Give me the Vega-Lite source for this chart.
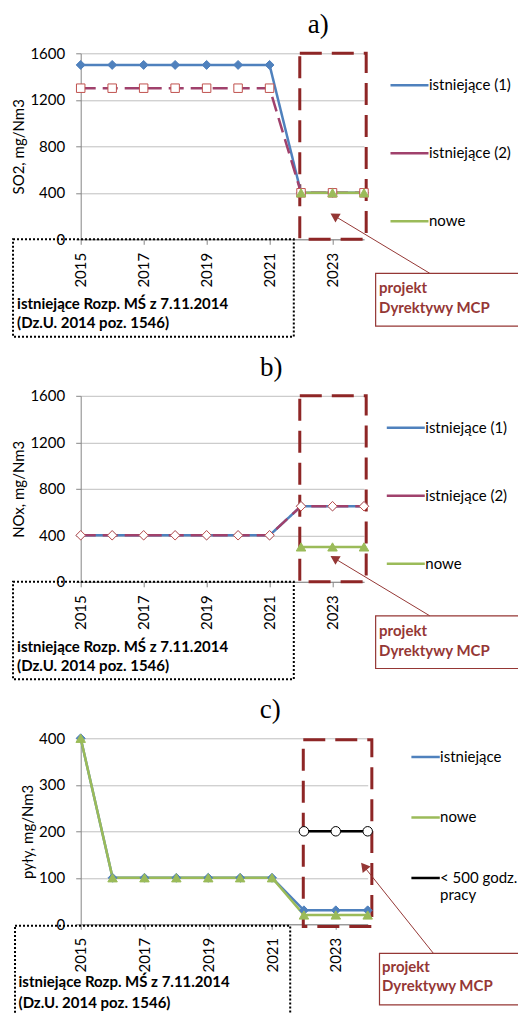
{
  "$schema": "https://vega.github.io/schema/vega-lite/v6.json",
  "padding": {"left": 11.7, "top": 11.3, "right": 0, "bottom": 0},
  "background": "white",
  "spacing": 156.5,
  "bounds": "flush",
  "resolve": {"scale": {"color": "independent"}, "legend": {"color": "independent"}},
  "config": {
    "view": {"stroke": null},
    "font": "Lato",
    "title": {"font": "Liberation Serif", "fontSize": 27, "fontWeight": "normal", "color": "#000", "anchor": "middle", "baseline": "alphabetic"},
    "axis": {"labelFont": "Lato", "labelFontSize": 15, "labelColor": "#000", "titleFont": "Lato", "titleFontSize": 15, "titleFontWeight": "normal", "titleColor": "#000", "domainColor": "#868686", "tickColor": "#868686", "gridColor": "#BFBFBF", "tickSize": 5, "labelOverlap": false},
    "legend": {"labelFont": "Lato", "labelFontSize": 15, "labelColor": "#000", "padding": 0, "labelOffset": -1, "symbolStrokeWidth": 2.5}
  },
  "vconcat": [
    {
      "title": {"text": "a)", "dx": 96, "offset": 7},
      "width": 283.3,
      "height": 186,
      "data": {"values": [
        {"rok": 2015, "seria": "istniejące (1)", "wartosc": 1500},
        {"rok": 2016, "seria": "istniejące (1)", "wartosc": 1500},
        {"rok": 2017, "seria": "istniejące (1)", "wartosc": 1500},
        {"rok": 2018, "seria": "istniejące (1)", "wartosc": 1500},
        {"rok": 2019, "seria": "istniejące (1)", "wartosc": 1500},
        {"rok": 2020, "seria": "istniejące (1)", "wartosc": 1500},
        {"rok": 2021, "seria": "istniejące (1)", "wartosc": 1500},
        {"rok": 2022, "seria": "istniejące (1)", "wartosc": 400},
        {"rok": 2023, "seria": "istniejące (1)", "wartosc": 400},
        {"rok": 2024, "seria": "istniejące (1)", "wartosc": 400},
        {"rok": 2015, "seria": "istniejące (2)", "wartosc": 1300},
        {"rok": 2016, "seria": "istniejące (2)", "wartosc": 1300},
        {"rok": 2017, "seria": "istniejące (2)", "wartosc": 1300},
        {"rok": 2018, "seria": "istniejące (2)", "wartosc": 1300},
        {"rok": 2019, "seria": "istniejące (2)", "wartosc": 1300},
        {"rok": 2020, "seria": "istniejące (2)", "wartosc": 1300},
        {"rok": 2021, "seria": "istniejące (2)", "wartosc": 1300},
        {"rok": 2022, "seria": "istniejące (2)", "wartosc": 400},
        {"rok": 2023, "seria": "istniejące (2)", "wartosc": 400},
        {"rok": 2024, "seria": "istniejące (2)", "wartosc": 400},
        {"rok": 2022, "seria": "nowe", "wartosc": 400},
        {"rok": 2023, "seria": "nowe", "wartosc": 400},
        {"rok": 2024, "seria": "nowe", "wartosc": 400}
      ]},
      "layer": [
        {
          "data": {"values": [{}]},
          "mark": {"type": "rect", "filled": false, "stroke": "#8E2626", "strokeWidth": 3, "strokeDash": [22, 10], "clip": false},
          "encoding": {"x": {"datum": 2021.96}, "x2": {"datum": 2024.07}, "y": {"datum": 0}, "y2": {"datum": 1600}}
        },
        {
          "mark": {"type": "line", "strokeWidth": 2.5},
          "encoding": {
            "x": {"field": "rok", "type": "quantitative", "scale": {"domain": [2015, 2024], "nice": false, "zero": false},
                  "axis": {"title": null, "values": [2015, 2016, 2017, 2018, 2019, 2020, 2021, 2022, 2023, 2024], "format": "d", "labelAngle": 270, "grid": false, "labelPadding": 8, "labelOverlap": false}},
            "y": {"field": "wartosc", "type": "quantitative", "scale": {"domain": [0, 1600], "nice": false},
                  "axis": {"title": "SO2, mg/Nm3", "values": [0, 400, 800, 1200, 1600], "format": "d", "grid": true, "labelPadding": 11, "titlePadding": 3}},
            "color": {"field": "seria", "type": "nominal",
                      "scale": {"domain": ["istniejące (1)", "istniejące (2)", "nowe"], "range": ["#4F81BD", "#A0416C", "#9BBB59"]},
                      "legend": {"title": null, "orient": "none", "legendX": 308.3, "legendY": 11.4, "symbolSize": 1444, "rowPadding": 39}},
            "strokeDash": {"field": "seria", "type": "nominal",
                           "scale": {"domain": ["istniejące (1)", "istniejące (2)", "nowe"], "range": [[1, 0], [15, 7], [1, 0]]}, "legend": null}
          }
        },
        {
          "transform": [{"filter": "datum.seria == 'istniejące (1)'"}],
          "mark": {"type": "point", "shape": "diamond", "filled": true, "fill": "#4F81BD", "stroke": "#4F81BD", "strokeWidth": 1, "opacity": 1, "size": 80},
          "encoding": {"x": {"field": "rok", "type": "quantitative"}, "y": {"field": "wartosc", "type": "quantitative"}}
        },
        {
          "transform": [{"filter": "datum.seria == 'istniejące (2)'"}],
          "mark": {"type": "point", "shape": "square", "filled": true, "fill": "#FFFFFF", "stroke": "#C0504D", "strokeWidth": 1, "opacity": 1, "size": 72},
          "encoding": {"x": {"field": "rok", "type": "quantitative"}, "y": {"field": "wartosc", "type": "quantitative"}}
        },
        {
          "transform": [{"filter": "datum.seria == 'nowe'"}],
          "mark": {"type": "point", "shape": "triangle-up", "filled": true, "fill": "#9BBB59", "stroke": "#9BBB59", "strokeWidth": 1, "opacity": 1, "size": 90},
          "encoding": {"x": {"field": "rok", "type": "quantitative"}, "y": {"field": "wartosc", "type": "quantitative"}}
        },
        {
          "data": {"values": [{}]},
          "mark": {"type": "rect", "filled": false, "stroke": "#000", "strokeWidth": 2, "strokeDash": [2, 2], "clip": false},
          "encoding": {"x": {"datum": 2012.85}, "x2": {"datum": 2021.77}, "y": {"datum": 0}, "y2": {"datum": -838}}
        },
        {
          "data": {"values": [{}]},
          "mark": {"type": "text", "text": "istniejące Rozp. MŚ z 7.11.2014", "align": "left", "baseline": "middle", "font": "Lato", "fontSize": 15, "fontWeight": "bold", "color": "#000", "clip": false},
          "encoding": {"x": {"datum": 2012.98}, "y": {"datum": -557}}
        },
        {
          "data": {"values": [{}]},
          "mark": {"type": "text", "text": "(Dz.U. 2014 poz. 1546)", "align": "left", "baseline": "middle", "font": "Lato", "fontSize": 15, "fontWeight": "bold", "color": "#000", "clip": false},
          "encoding": {"x": {"datum": 2012.98}, "y": {"datum": -723}}
        },
        {
          "data": {"values": [{}]},
          "mark": {"type": "rect", "filled": false, "stroke": "#953735", "strokeWidth": 1.2, "clip": false},
          "encoding": {"x": {"datum": 2024.37}, "x2": {"datum": 2029.4}, "y": {"datum": -292.5}, "y2": {"datum": -746}}
        },
        {
          "data": {"values": [{}]},
          "mark": {"type": "text", "text": "projekt", "align": "left", "baseline": "middle", "font": "Lato", "fontSize": 15, "fontWeight": "bold", "color": "#953735", "clip": false},
          "encoding": {"x": {"datum": 2024.48}, "y": {"datum": -421.5}}
        },
        {
          "data": {"values": [{}]},
          "mark": {"type": "text", "text": "Dyrektywy MCP", "align": "left", "baseline": "middle", "font": "Lato", "fontSize": 15, "fontWeight": "bold", "color": "#953735", "clip": false},
          "encoding": {"x": {"datum": 2024.48}, "y": {"datum": -593.5}}
        },
        {
          "data": {"values": [{}]},
          "mark": {"type": "rule", "stroke": "#953735", "strokeWidth": 1, "clip": false},
          "encoding": {"x": {"datum": 2026.09}, "y": {"datum": -292.5}, "x2": {"datum": 2023.07}, "y2": {"datum": 200.4}}
        },
        {
          "data": {"values": [{}]},
          "mark": {"type": "point", "shape": "triangle-up", "filled": true, "fill": "#953735", "stroke": "#953735", "size": 45, "angle": 301, "opacity": 1, "clip": false},
          "encoding": {"x": {"datum": 2023.07}, "y": {"datum": 200.4}}
        }
      ]
    },
    {
      "title": {"text": "b)", "dx": 49, "offset": 7},
      "width": 283.3,
      "height": 186,
      "data": {"values": [
        {"rok": 2015, "seria": "istniejące (1)", "wartosc": 400},
        {"rok": 2016, "seria": "istniejące (1)", "wartosc": 400},
        {"rok": 2017, "seria": "istniejące (1)", "wartosc": 400},
        {"rok": 2018, "seria": "istniejące (1)", "wartosc": 400},
        {"rok": 2019, "seria": "istniejące (1)", "wartosc": 400},
        {"rok": 2020, "seria": "istniejące (1)", "wartosc": 400},
        {"rok": 2021, "seria": "istniejące (1)", "wartosc": 400},
        {"rok": 2022, "seria": "istniejące (1)", "wartosc": 650},
        {"rok": 2023, "seria": "istniejące (1)", "wartosc": 650},
        {"rok": 2024, "seria": "istniejące (1)", "wartosc": 650},
        {"rok": 2015, "seria": "istniejące (2)", "wartosc": 400},
        {"rok": 2016, "seria": "istniejące (2)", "wartosc": 400},
        {"rok": 2017, "seria": "istniejące (2)", "wartosc": 400},
        {"rok": 2018, "seria": "istniejące (2)", "wartosc": 400},
        {"rok": 2019, "seria": "istniejące (2)", "wartosc": 400},
        {"rok": 2020, "seria": "istniejące (2)", "wartosc": 400},
        {"rok": 2021, "seria": "istniejące (2)", "wartosc": 400},
        {"rok": 2022, "seria": "istniejące (2)", "wartosc": 650},
        {"rok": 2023, "seria": "istniejące (2)", "wartosc": 650},
        {"rok": 2024, "seria": "istniejące (2)", "wartosc": 650},
        {"rok": 2022, "seria": "nowe", "wartosc": 300},
        {"rok": 2023, "seria": "nowe", "wartosc": 300},
        {"rok": 2024, "seria": "nowe", "wartosc": 300}
      ]},
      "layer": [
        {
          "data": {"values": [{}]},
          "mark": {"type": "rect", "filled": false, "stroke": "#8E2626", "strokeWidth": 3, "strokeDash": [22, 10], "clip": false},
          "encoding": {"x": {"datum": 2021.96}, "x2": {"datum": 2024.07}, "y": {"datum": 0}, "y2": {"datum": 1600}}
        },
        {
          "mark": {"type": "line", "strokeWidth": 2.5},
          "encoding": {
            "x": {"field": "rok", "type": "quantitative", "scale": {"domain": [2015, 2024], "nice": false, "zero": false},
                  "axis": {"title": null, "values": [2015, 2016, 2017, 2018, 2019, 2020, 2021, 2022, 2023, 2024], "format": "d", "labelAngle": 270, "grid": false, "labelPadding": 8, "labelOverlap": false}},
            "y": {"field": "wartosc", "type": "quantitative", "scale": {"domain": [0, 1600], "nice": false},
                  "axis": {"title": "NOx, mg/Nm3", "values": [0, 400, 800, 1200, 1600], "format": "d", "grid": true, "labelPadding": 11, "titlePadding": 3}},
            "color": {"field": "seria", "type": "nominal",
                      "scale": {"domain": ["istniejące (1)", "istniejące (2)", "nowe"], "range": ["#4F81BD", "#A0416C", "#9BBB59"]},
                      "legend": {"title": null, "orient": "none", "legendX": 304.6, "legendY": 11.4, "symbolSize": 1444, "rowPadding": 39}},
            "strokeDash": {"field": "seria", "type": "nominal",
                           "scale": {"domain": ["istniejące (1)", "istniejące (2)", "nowe"], "range": [[1, 0], [15, 7], [1, 0]]}, "legend": null}
          }
        },
        {
          "transform": [{"filter": "datum.seria == 'istniejące (1)'"}],
          "mark": {"type": "point", "shape": "diamond", "filled": true, "fill": "#4F81BD", "stroke": "#4F81BD", "strokeWidth": 1, "opacity": 1, "size": 80},
          "encoding": {"x": {"field": "rok", "type": "quantitative"}, "y": {"field": "wartosc", "type": "quantitative"}}
        },
        {
          "transform": [{"filter": "datum.seria == 'istniejące (2)'"}],
          "mark": {"type": "point", "shape": "diamond", "filled": true, "fill": "#FFFFFF", "stroke": "#C0504D", "strokeWidth": 1, "opacity": 1, "size": 90},
          "encoding": {"x": {"field": "rok", "type": "quantitative"}, "y": {"field": "wartosc", "type": "quantitative"}}
        },
        {
          "transform": [{"filter": "datum.seria == 'nowe'"}],
          "mark": {"type": "point", "shape": "triangle-up", "filled": true, "fill": "#9BBB59", "stroke": "#9BBB59", "strokeWidth": 1, "opacity": 1, "size": 90},
          "encoding": {"x": {"field": "rok", "type": "quantitative"}, "y": {"field": "wartosc", "type": "quantitative"}}
        },
        {
          "data": {"values": [{}]},
          "mark": {"type": "rect", "filled": false, "stroke": "#000", "strokeWidth": 2, "strokeDash": [2, 2], "clip": false},
          "encoding": {"x": {"datum": 2012.85}, "x2": {"datum": 2021.77}, "y": {"datum": 0}, "y2": {"datum": -838}}
        },
        {
          "data": {"values": [{}]},
          "mark": {"type": "text", "text": "istniejące Rozp. MŚ z 7.11.2014", "align": "left", "baseline": "middle", "font": "Lato", "fontSize": 15, "fontWeight": "bold", "color": "#000", "clip": false},
          "encoding": {"x": {"datum": 2012.98}, "y": {"datum": -557}}
        },
        {
          "data": {"values": [{}]},
          "mark": {"type": "text", "text": "(Dz.U. 2014 poz. 1546)", "align": "left", "baseline": "middle", "font": "Lato", "fontSize": 15, "fontWeight": "bold", "color": "#000", "clip": false},
          "encoding": {"x": {"datum": 2012.98}, "y": {"datum": -723}}
        },
        {
          "data": {"values": [{}]},
          "mark": {"type": "rect", "filled": false, "stroke": "#953735", "strokeWidth": 1.2, "clip": false},
          "encoding": {"x": {"datum": 2024.37}, "x2": {"datum": 2029.4}, "y": {"datum": -292.5}, "y2": {"datum": -746}}
        },
        {
          "data": {"values": [{}]},
          "mark": {"type": "text", "text": "projekt", "align": "left", "baseline": "middle", "font": "Lato", "fontSize": 15, "fontWeight": "bold", "color": "#953735", "clip": false},
          "encoding": {"x": {"datum": 2024.48}, "y": {"datum": -421.5}}
        },
        {
          "data": {"values": [{}]},
          "mark": {"type": "text", "text": "Dyrektywy MCP", "align": "left", "baseline": "middle", "font": "Lato", "fontSize": 15, "fontWeight": "bold", "color": "#953735", "clip": false},
          "encoding": {"x": {"datum": 2024.48}, "y": {"datum": -593.5}}
        },
        {
          "data": {"values": [{}]},
          "mark": {"type": "rule", "stroke": "#953735", "strokeWidth": 1, "clip": false},
          "encoding": {"x": {"datum": 2026.09}, "y": {"datum": -292.5}, "x2": {"datum": 2023.07}, "y2": {"datum": 200.4}}
        },
        {
          "data": {"values": [{}]},
          "mark": {"type": "point", "shape": "triangle-up", "filled": true, "fill": "#953735", "stroke": "#953735", "size": 45, "angle": 301, "opacity": 1, "clip": false},
          "encoding": {"x": {"datum": 2023.07}, "y": {"datum": 200.4}}
        }
      ]
    },
    {
      "title": {"text": "c)", "dx": 46, "offset": 7},
      "width": 287,
      "height": 186,
      "data": {"values": [
        {"rok": 2015, "seria": "istniejące", "wartosc": 400},
        {"rok": 2016, "seria": "istniejące", "wartosc": 100},
        {"rok": 2017, "seria": "istniejące", "wartosc": 100},
        {"rok": 2018, "seria": "istniejące", "wartosc": 100},
        {"rok": 2019, "seria": "istniejące", "wartosc": 100},
        {"rok": 2020, "seria": "istniejące", "wartosc": 100},
        {"rok": 2021, "seria": "istniejące", "wartosc": 100},
        {"rok": 2022, "seria": "istniejące", "wartosc": 30},
        {"rok": 2023, "seria": "istniejące", "wartosc": 30},
        {"rok": 2024, "seria": "istniejące", "wartosc": 30},
        {"rok": 2015, "seria": "nowe", "wartosc": 400},
        {"rok": 2016, "seria": "nowe", "wartosc": 100},
        {"rok": 2017, "seria": "nowe", "wartosc": 100},
        {"rok": 2018, "seria": "nowe", "wartosc": 100},
        {"rok": 2019, "seria": "nowe", "wartosc": 100},
        {"rok": 2020, "seria": "nowe", "wartosc": 100},
        {"rok": 2021, "seria": "nowe", "wartosc": 100},
        {"rok": 2022, "seria": "nowe", "wartosc": 20},
        {"rok": 2023, "seria": "nowe", "wartosc": 20},
        {"rok": 2024, "seria": "nowe", "wartosc": 20},
        {"rok": 2022, "seria": "< 500 godz. pracy", "wartosc": 200},
        {"rok": 2023, "seria": "< 500 godz. pracy", "wartosc": 200},
        {"rok": 2024, "seria": "< 500 godz. pracy", "wartosc": 200}
      ]},
      "layer": [
        {
          "data": {"values": [{}]},
          "mark": {"type": "rect", "filled": false, "stroke": "#8E2626", "strokeWidth": 3, "strokeDash": [22, 10], "clip": false},
          "encoding": {"x": {"datum": 2021.98}, "x2": {"datum": 2024.13}, "y": {"datum": -5}, "y2": {"datum": 397}}
        },
        {
          "mark": {"type": "line", "strokeWidth": 2.5},
          "encoding": {
            "x": {"field": "rok", "type": "quantitative", "scale": {"domain": [2015, 2024], "nice": false, "zero": false},
                  "axis": {"title": null, "values": [2015, 2016, 2017, 2018, 2019, 2020, 2021, 2022, 2023, 2024], "format": "d", "labelAngle": 270, "grid": false, "labelPadding": 8, "labelOverlap": false}},
            "y": {"field": "wartosc", "type": "quantitative", "scale": {"domain": [0, 400], "nice": false},
                  "axis": {"title": "pyły, mg/Nm3", "values": [0, 100, 200, 300, 400], "format": "d", "grid": true, "labelPadding": 11, "titlePadding": 3}},
            "color": {"field": "seria", "type": "nominal",
                      "scale": {"domain": ["istniejące", "nowe", "< 500 godz. pracy"], "range": ["#4F81BD", "#9BBB59", "#000000"]},
                      "legend": {"title": null, "orient": "none", "legendX": 329.4, "legendY": 3.2, "symbolSize": 806, "rowPadding": 36.5,
                        "labelExpr": "datum.label == '< 500 godz. pracy' ? ['< 500 godz.', 'pracy'] : datum.label"}}
          }
        },
        {
          "transform": [{"filter": "datum.seria == 'istniejące'"}],
          "mark": {"type": "point", "shape": "diamond", "filled": true, "fill": "#4F81BD", "stroke": "#4F81BD", "strokeWidth": 1, "opacity": 1, "size": 80},
          "encoding": {"x": {"field": "rok", "type": "quantitative"}, "y": {"field": "wartosc", "type": "quantitative"}}
        },
        {
          "transform": [{"filter": "datum.seria == 'nowe'"}],
          "mark": {"type": "point", "shape": "triangle-up", "filled": true, "fill": "#9BBB59", "stroke": "#9BBB59", "strokeWidth": 1, "opacity": 1, "size": 90},
          "encoding": {"x": {"field": "rok", "type": "quantitative"}, "y": {"field": "wartosc", "type": "quantitative"}}
        },
        {
          "transform": [{"filter": "datum.seria == '< 500 godz. pracy'"}],
          "mark": {"type": "point", "shape": "circle", "filled": true, "fill": "#FFFFFF", "stroke": "#000000", "strokeWidth": 1, "opacity": 1, "size": 90},
          "encoding": {"x": {"field": "rok", "type": "quantitative"}, "y": {"field": "wartosc", "type": "quantitative"}}
        },
        {
          "data": {"values": [{}]},
          "mark": {"type": "rect", "filled": false, "stroke": "#000", "strokeWidth": 2, "strokeDash": [2, 2], "clip": false},
          "encoding": {"x": {"datum": 2012.94}, "x2": {"datum": 2021.57}, "y": {"datum": -3}, "y2": {"datum": -206}}
        },
        {
          "data": {"values": [{}]},
          "mark": {"type": "text", "text": "istniejące Rozp. MŚ z 7.11.2014", "align": "left", "baseline": "middle", "font": "Lato", "fontSize": 15, "fontWeight": "bold", "color": "#000", "clip": false},
          "encoding": {"x": {"datum": 2013.05}, "y": {"datum": -123.4}}
        },
        {
          "data": {"values": [{}]},
          "mark": {"type": "text", "text": "(Dz.U. 2014 poz. 1546)", "align": "left", "baseline": "middle", "font": "Lato", "fontSize": 15, "fontWeight": "bold", "color": "#000", "clip": false},
          "encoding": {"x": {"datum": 2013.05}, "y": {"datum": -168.6}}
        },
        {
          "data": {"values": [{}]},
          "mark": {"type": "rect", "filled": false, "stroke": "#953735", "strokeWidth": 1.2, "clip": false},
          "encoding": {"x": {"datum": 2024.37}, "x2": {"datum": 2029.4}, "y": {"datum": -62.4}, "y2": {"datum": -173.5}}
        },
        {
          "data": {"values": [{}]},
          "mark": {"type": "text", "text": "projekt", "align": "left", "baseline": "middle", "font": "Lato", "fontSize": 15, "fontWeight": "bold", "color": "#953735", "clip": false},
          "encoding": {"x": {"datum": 2024.45}, "y": {"datum": -92.5}}
        },
        {
          "data": {"values": [{}]},
          "mark": {"type": "text", "text": "Dyrektywy MCP", "align": "left", "baseline": "middle", "font": "Lato", "fontSize": 15, "fontWeight": "bold", "color": "#953735", "clip": false},
          "encoding": {"x": {"datum": 2024.45}, "y": {"datum": -132.7}}
        },
        {
          "data": {"values": [{}]},
          "mark": {"type": "rule", "stroke": "#953735", "strokeWidth": 1, "clip": false},
          "encoding": {"x": {"datum": 2026.06}, "y": {"datum": -62.4}, "x2": {"datum": 2023.89}, "y2": {"datum": 123.9}}
        },
        {
          "data": {"values": [{}]},
          "mark": {"type": "point", "shape": "triangle-up", "filled": true, "fill": "#953735", "stroke": "#953735", "size": 45, "angle": 321, "opacity": 1, "clip": false},
          "encoding": {"x": {"datum": 2023.89}, "y": {"datum": 123.9}}
        }
      ]
    }
  ]
}
